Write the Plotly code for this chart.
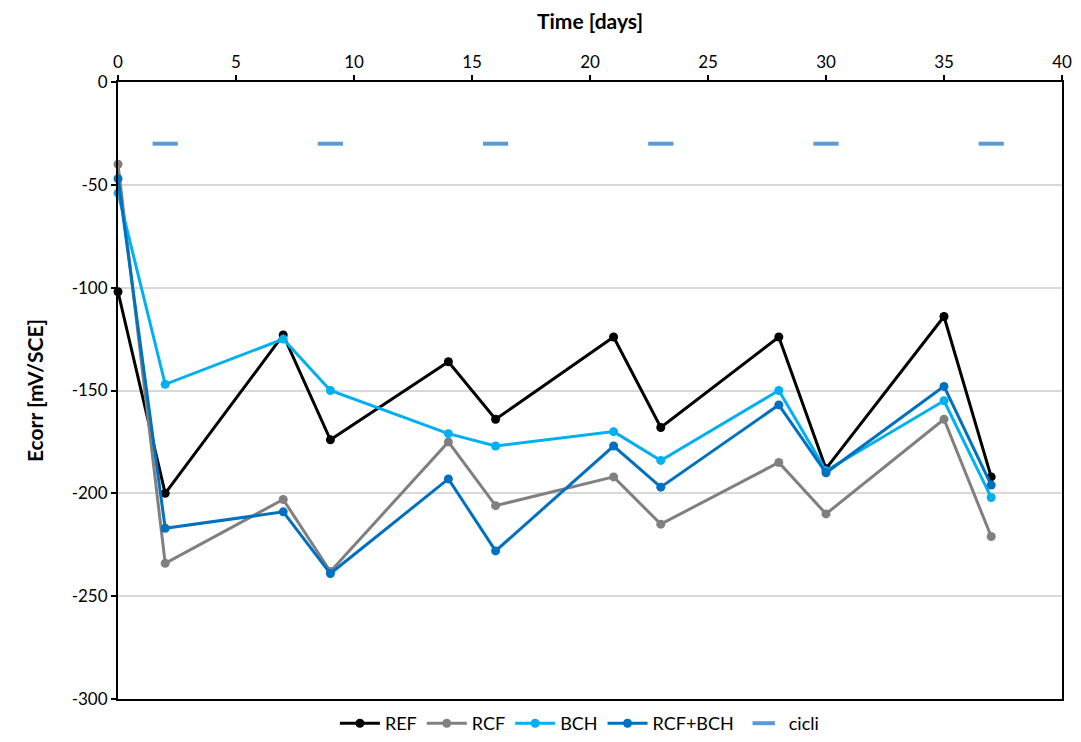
import plotly.graph_objects as go

# Measurement days and corrosion potential readings [mV/SCE]
days = [0, 2, 7, 9, 14, 16, 21, 23, 28, 30, 35, 37]
ref = [-102, -200, -123, -174, -136, -164, -124, -168, -124, -188, -114, -192]
rcf = [-40, -234, -203, -238, -175, -206, -192, -215, -185, -210, -164, -221]
bch = [-54, -147, -125, -150, -171, -177, -170, -184, -150, -189, -155, -202]
rcf_bch = [-47, -217, -209, -239, -193, -228, -177, -197, -157, -190, -148, -196]

# Wet/dry cycle marks
cycle_days = [2, 9, 16, 23, 30, 37]
cycle_level = [-30, -30, -30, -30, -30, -30]

# Axis ticks (plain hyphen for negatives)
x_ticks = [0, 5, 10, 15, 20, 25, 30, 35, 40]
y_ticks = [0, -50, -100, -150, -200, -250, -300]
y_ticklabels = ["0", "-50", "-100", "-150", "-200", "-250", "-300"]

series = [
    ("REF", ref, "#000000"),
    ("RCF", rcf, "#808080"),
    ("BCH", bch, "#00B0F0"),
    ("RCF+BCH", rcf_bch, "#0070C0"),
]

FONT = "Lato, 'Open Sans', sans-serif"

fig = go.Figure()
for name, vals, col in series:
    fig.add_trace(go.Scatter(
        x=days, y=vals, name=name, mode="lines+markers",
        line=dict(color=col, width=3),
        marker=dict(color=col, size=9),
        cliponaxis=False,
    ))

fig.add_trace(go.Scatter(
    x=cycle_days, y=cycle_level, name="cicli", mode="markers",
    marker=dict(symbol="line-ew", size=18, line=dict(color="#5B9BD5", width=4)),
    cliponaxis=False,
))

fig.update_layout(
    width=1081, height=742,
    margin=dict(l=118, r=19, t=82, b=43, autoexpand=False),
    paper_bgcolor="white", plot_bgcolor="white",
    font=dict(family=FONT, size=16, color="#000000"),
    showlegend=True,
    legend=dict(orientation="h", x=0.536, xanchor="center", xref="container",
                y=0.0, yanchor="bottom", yref="container",
                font=dict(size=18), itemwidth=40, tracegroupgap=0),
    xaxis=dict(
        side="top", range=[0, 40], tickvals=x_ticks,
        showgrid=False, zeroline=False,
        showline=True, linecolor="#000000", linewidth=2, mirror=True,
        ticks="outside", ticklen=5, tickcolor="#000000", tickwidth=1.5,
        title=dict(text="<b>Time [days]</b>", font=dict(size=21), standoff=16),
        tickfont=dict(size=17),
    ),
    yaxis=dict(
        range=[-300, 0], tickvals=y_ticks, ticktext=y_ticklabels,
        showgrid=True, gridcolor="#D9D9D9", gridwidth=1.5, zeroline=False,
        showline=True, linecolor="#000000", linewidth=2, mirror=True,
        ticks="outside", ticklen=5, tickcolor="#000000", tickwidth=1.5,
        title=dict(text="<b>Ecorr [mV/SCE]</b>", font=dict(size=21), standoff=22),
        tickfont=dict(size=17),
    ),
)

fig.write_html("out.html")
